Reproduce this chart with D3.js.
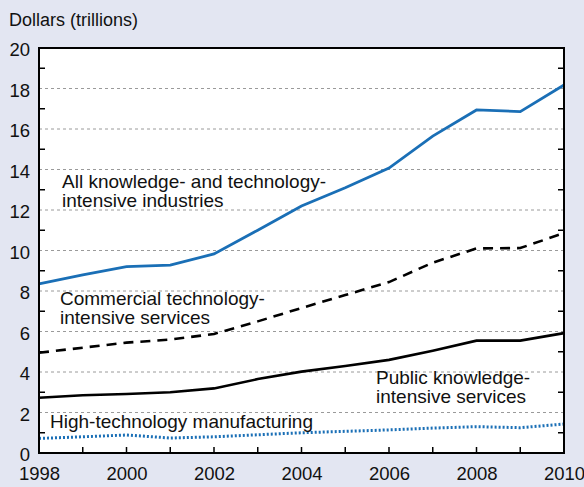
<!DOCTYPE html>
<html>
<head>
<meta charset="utf-8">
<script src="https://cdn.jsdelivr.net/npm/d3@7"></script>
<style>
  body { margin: 0; background: #e3e6f2; }
  svg { display: block; font-family: "Liberation Sans", Arial, sans-serif; }
</style>
</head>
<body>
<div class="chart"></div>
<script>
// chart values
var years = [1998, 1999, 2000, 2001, 2002, 2003, 2004, 2005, 2006, 2007, 2008, 2009, 2010];
var allKti = [8.35, 8.8, 9.2, 9.28, 9.83, 11.0, 12.2, 13.1, 14.07, 15.65, 16.94, 16.86, 18.17];
var commercialKti = [4.95, 5.2, 5.45, 5.6, 5.88, 6.5, 7.16, 7.8, 8.44, 9.4, 10.1, 10.12, 10.86];
var publicKis = [2.73, 2.85, 2.91, 3.0, 3.19, 3.65, 4.02, 4.3, 4.6, 5.05, 5.55, 5.55, 5.92];
var hiTechMfg = [0.72, 0.8, 0.89, 0.74, 0.8, 0.9, 1.0, 1.07, 1.14, 1.23, 1.3, 1.25, 1.43];
var yTicks = [0, 2, 4, 6, 8, 10, 12, 14, 16, 18, 20];
var xTicks = [1998, 2000, 2002, 2004, 2006, 2008, 2010];

var svgWidth = 584;
var svgHeight = 487;
var margin = { top: 48, right: 20, bottom: 34, left: 39 };
var width = svgWidth - margin.left - margin.right;
var height = svgHeight - margin.top - margin.bottom;

var svg = d3.select(".chart").append("svg")
  .attr("width", svgWidth)
  .attr("height", svgHeight);

var chart = svg.append("g")
  .attr("transform", "translate(" + margin.left + "," + margin.top + ")");

var x = d3.scaleLinear().domain([1998, 2010]).range([0, width]);
var y = d3.scaleLinear().domain([0, 20]).range([height, 0]);

// white plot area
chart.append("rect")
  .attr("width", width)
  .attr("height", height)
  .attr("fill", "#ffffff");

// dotted gridlines at even values
chart.selectAll(".grid")
  .data(yTicks.filter(function(d) { return d > 0 && d < 20; }))
  .enter().append("line")
  .attr("x1", 0).attr("x2", width)
  .attr("y1", function(d) { return y(d); })
  .attr("y2", function(d) { return y(d); })
  .attr("stroke", "#9a9a9a")
  .attr("stroke-width", 1)
  .attr("stroke-dasharray", "3,3");

// inward minor ticks on left / right at odd values
var oddVals = d3.range(1, 20, 2);
chart.selectAll(".ltick").data(oddVals).enter().append("line")
  .attr("x1", 0).attr("x2", 6)
  .attr("y1", function(d) { return y(d); }).attr("y2", function(d) { return y(d); })
  .attr("stroke", "#000").attr("stroke-width", 1.5);
chart.selectAll(".rtick").data(oddVals).enter().append("line")
  .attr("x1", width - 6).attr("x2", width)
  .attr("y1", function(d) { return y(d); }).attr("y2", function(d) { return y(d); })
  .attr("stroke", "#000").attr("stroke-width", 1.5);

// inward ticks on bottom for every year
chart.selectAll(".btick").data(years).enter().append("line")
  .attr("x1", function(d) { return x(d); }).attr("x2", function(d) { return x(d); })
  .attr("y1", height).attr("y2", height - 6)
  .attr("stroke", "#000").attr("stroke-width", 1.5);

// series lines
var line = d3.line()
  .x(function(d, i) { return x(years[i]); })
  .y(function(d) { return y(d); });

chart.append("path").datum(hiTechMfg)
  .attr("d", line).attr("fill", "none")
  .attr("stroke", "#1a6fb6").attr("stroke-width", 3)
  .attr("stroke-dasharray", "2,2");

chart.append("path").datum(publicKis)
  .attr("d", line).attr("fill", "none")
  .attr("stroke", "#000").attr("stroke-width", 2.6);

chart.append("path").datum(commercialKti)
  .attr("d", line).attr("fill", "none")
  .attr("stroke", "#000").attr("stroke-width", 2.6)
  .attr("stroke-dasharray", "10,7");

chart.append("path").datum(allKti)
  .attr("d", line).attr("fill", "none")
  .attr("stroke", "#1a6fb6").attr("stroke-width", 2.8);

// frame
chart.append("rect")
  .attr("width", width)
  .attr("height", height)
  .attr("fill", "none")
  .attr("stroke", "#000")
  .attr("stroke-width", 2);

// axis labels
var leftAxis = d3.axisLeft(y).tickValues(yTicks).tickSize(0).tickPadding(9);
var gy = chart.append("g").call(leftAxis);
gy.select(".domain").remove();
gy.selectAll("text")
  .attr("dy", "0.42em")
  .style("font-size", "18.5px")
  .style("font-family", "Liberation Sans, Arial, sans-serif")
  .attr("fill", "#111");

var bottomAxis = d3.axisBottom(x).tickValues(xTicks).tickFormat(d3.format("d")).tickSize(0).tickPadding(14);
var gx = chart.append("g").attr("transform", "translate(0," + height + ")").call(bottomAxis);
gx.select(".domain").remove();
gx.selectAll("text")
  .style("font-size", "18.5px")
  .style("font-family", "Liberation Sans, Arial, sans-serif")
  .attr("fill", "#111");

svg.append("text")
  .attr("x", 9).attr("y", 26)
  .style("font-size", "18px")
  .attr("fill", "#111")
  .text("Dollars (trillions)");

// series labels
var labels = [
  { lines: ["All knowledge- and technology-", "intensive industries"], x: 62, y: 188 },
  { lines: ["Commercial technology-", "intensive services"], x: 60, y: 305 },
  { lines: ["Public knowledge-", "intensive services"], x: 376, y: 384 },
  { lines: ["High-technology manufacturing"], x: 50, y: 428 }
];
labels.forEach(function(l) {
  var t = svg.append("text")
    .attr("x", l.x).attr("y", l.y)
    .style("font-size", "19px")
    .attr("fill", "#111");
  l.lines.forEach(function(s, i) {
    t.append("tspan").attr("x", l.x).attr("dy", i === 0 ? 0 : 18.5).text(s);
  });
});
</script>
</body>
</html>
